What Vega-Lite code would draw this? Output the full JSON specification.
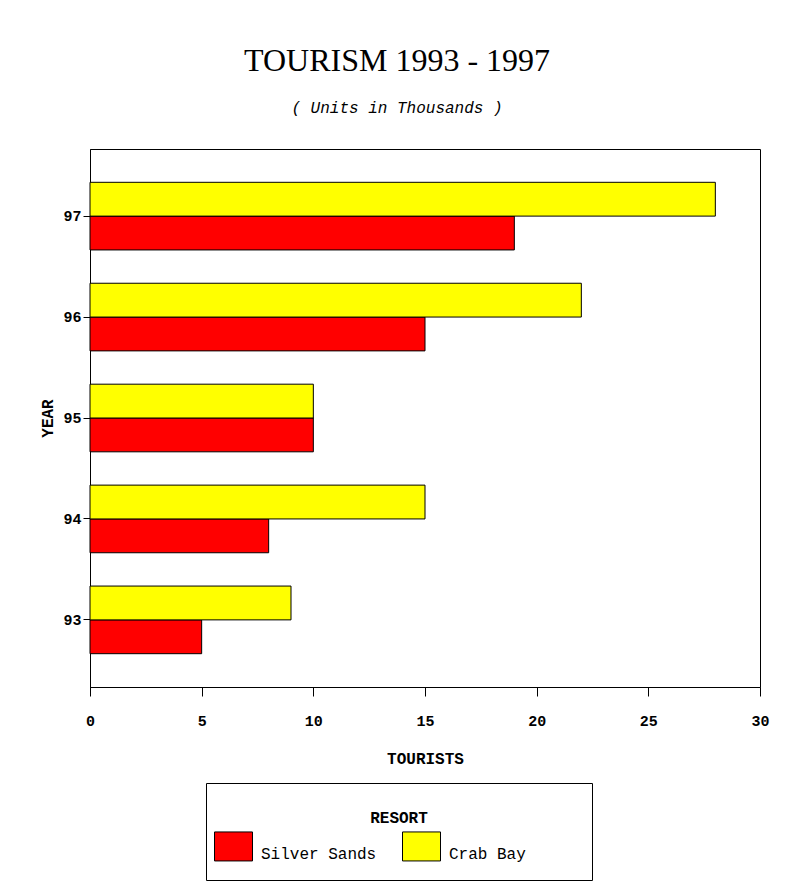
{
  "$schema": "https://vega.github.io/schema/vega-lite/v6.json",
  "autosize": {"type": "none"},
  "width": 670,
  "height": 538,
  "padding": {"left": 90, "top": 149, "right": 32, "bottom": 206},
  "background": "white",
  "title": {
    "text": "TOURISM 1993 - 1997",
    "subtitle": "( Units in Thousands )",
    "font": "Liberation Serif",
    "fontSize": 32,
    "fontWeight": "normal",
    "color": "black",
    "subtitleFont": "Liberation Mono",
    "subtitleFontStyle": "italic",
    "subtitleFontWeight": "normal",
    "subtitleFontSize": 16,
    "subtitleColor": "black",
    "subtitlePadding": 22,
    "anchor": "middle",
    "frame": "group",
    "dx": -28,
    "offset": 32
  },
  "data": {
    "values": [
      {"Year": "97", "Resort": "Silver Sands", "Tourists": 19},
      {"Year": "97", "Resort": "Crab Bay", "Tourists": 28},
      {"Year": "96", "Resort": "Silver Sands", "Tourists": 15},
      {"Year": "96", "Resort": "Crab Bay", "Tourists": 22},
      {"Year": "95", "Resort": "Silver Sands", "Tourists": 10},
      {"Year": "95", "Resort": "Crab Bay", "Tourists": 10},
      {"Year": "94", "Resort": "Silver Sands", "Tourists": 8},
      {"Year": "94", "Resort": "Crab Bay", "Tourists": 15},
      {"Year": "93", "Resort": "Silver Sands", "Tourists": 5},
      {"Year": "93", "Resort": "Crab Bay", "Tourists": 9}
    ]
  },
  "mark": {"type": "bar", "stroke": "black", "strokeWidth": 1},
  "encoding": {
    "y": {
      "field": "Year",
      "type": "ordinal",
      "sort": "descending",
      "title": "YEAR",
      "scale": {"paddingInner": 0.33, "paddingOuter": 0.33},
      "axis": {
        "labelFontSize": 15,
        "titleFontSize": 16,
        "tickSize": 7,
        "labelPadding": 2,
        "titlePadding": 7,
        "labelAngle": 0
      }
    },
    "yOffset": {
      "field": "Resort",
      "type": "nominal",
      "scale": {"domain": ["Crab Bay", "Silver Sands"], "paddingInner": 0, "paddingOuter": 0}
    },
    "x": {
      "field": "Tourists",
      "type": "quantitative",
      "title": "TOURISTS",
      "scale": {"domain": [0, 30], "nice": false},
      "axis": {
        "values": [0, 5, 10, 15, 20, 25, 30],
        "labelFontSize": 15,
        "titleFontSize": 16,
        "tickSize": 9,
        "labelPadding": 17,
        "titlePadding": 22,
        "labelFlush": false
      }
    },
    "color": {
      "field": "Resort",
      "type": "nominal",
      "scale": {"domain": ["Silver Sands", "Crab Bay"], "range": ["#ff0000", "#ffff00"]},
      "legend": {
        "title": ["", "RESORT"],
        "orient": "none",
        "legendX": 116,
        "legendY": 634,
        "direction": "horizontal",
        "strokeColor": "black",
        "fillColor": "white",
        "padding": 8,
        "titleAnchor": "middle",
        "titleFont": "Liberation Mono",
        "titleFontWeight": "bold",
        "titleFontSize": 16,
        "titleColor": "black",
        "titleBaseline": "top",
        "titleLineHeight": 18.6,
        "titlePadding": 1,
        "labelFont": "Liberation Mono",
        "labelFontSize": 16,
        "labelFontWeight": "normal",
        "labelColor": "black",
        "labelBaseline": "top",
        "labelOffset": 8,
        "labelLimit": 300,
        "columnPadding": 23,
        "symbolType": "M-1,-0.763H1V0.763H-1Z M1,1.2",
        "symbolSize": 1444,
        "symbolStrokeColor": "black",
        "symbolStrokeWidth": 1,
        "symbolOpacity": 1,
        "labelExpr": "datum.label == 'Crab Bay' ? datum.label + '\u00a0\u00a0\u00a0\u00a0\u00a0\u00a0\u200b' : datum.label"
      }
    }
  },
  "config": {
    "view": {"stroke": "black", "strokeWidth": 1},
    "axis": {
      "grid": false,
      "domainColor": "black",
      "tickColor": "black",
      "labelColor": "black",
      "titleColor": "black",
      "labelFont": "Liberation Mono",
      "labelFontWeight": "bold",
      "titleFont": "Liberation Mono",
      "titleFontWeight": "bold"
    }
  }
}
